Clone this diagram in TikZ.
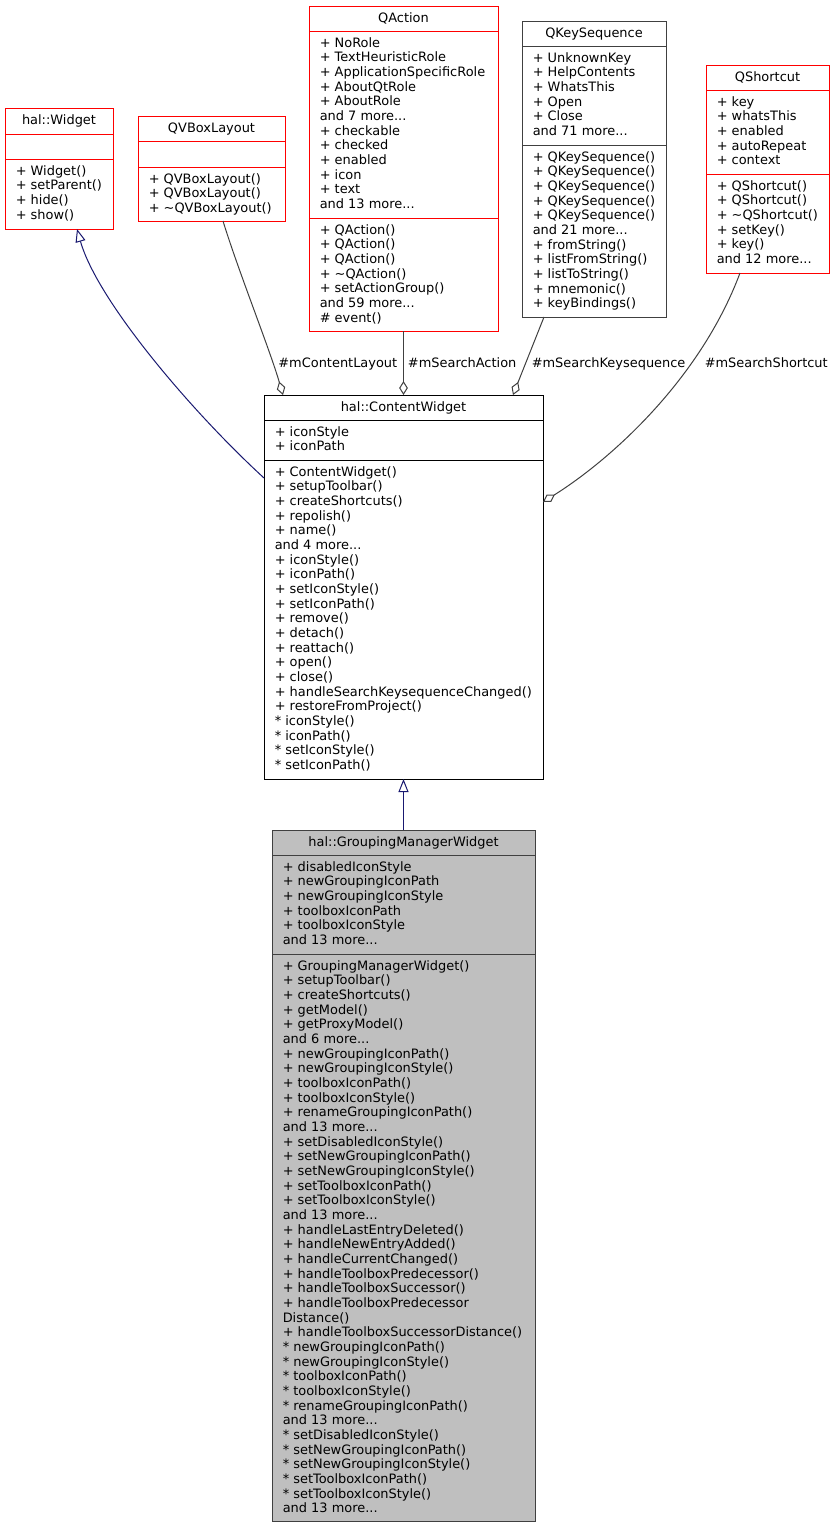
\documentclass[tikz,border=0pt]{standalone}
\usepackage{fontspec}
\setmainfont{DejaVu Sans}
\usetikzlibrary{arrows.meta,calc,fit}
\definecolor{dkgray}{HTML}{404040}
\definecolor{edgegray}{HTML}{404040}
\definecolor{navyedge}{HTML}{191970}
\definecolor{grpfill}{HTML}{BFBFBF}
\newcommand\umlfont{\fontsize{9.7}{11}\selectfont}
\tikzset{
  boxbase/.style={inner sep=0pt, outer sep=0pt, line width=0.75pt},
  redbox/.style={boxbase, draw=red, fill=white},
  darkbox/.style={boxbase, draw=dkgray, fill=white},
  blackbox/.style={boxbase, draw=black, fill=white},
  grpbox/.style={boxbase, draw=dkgray, fill=grpfill},
  redsep/.style={draw=red, line width=0.75pt},
  darksep/.style={draw=dkgray, line width=0.75pt},
  blacksep/.style={draw=black, line width=0.75pt},
  ttl/.style={anchor=base, inner sep=0pt, font=\umlfont},
  mem/.style={anchor=base west, inner sep=0pt, font=\umlfont},
  lbl/.style={inner sep=0pt, font=\umlfont},
  inh/.style={draw=navyedge, line width=0.75pt, -{Triangle[open,length=9.75pt,width=7.5pt]}},
  agg/.style={draw=edgegray, line width=0.75pt, {Diamond[open,length=10.5pt,width=6.5pt]}-}
}
\begin{document}
\begin{tikzpicture}[x=0.75pt,y=-0.75pt]
\useasboundingbox (0,0) rectangle (834,1528);

% hal::Widget
\node[redbox, fit={(5,108) (113,229)}] (wdg) {};
\draw[redsep] (5,134) -- (113,134);
\draw[redsep] (5,159) -- (113,159);
\node[ttl] (wdgT) at (59,124) {hal::Widget};
\node[mem] (wdgM) at (15.5,175) {\begin{tabular}[t]{@{}l@{}}+ Widget()\\+ setParent()\\+ hide()\\+ show()\end{tabular}};

% QVBoxLayout
\node[redbox, fit={(138,116) (285,221)}] (qvb) {};
\draw[redsep] (138,141) -- (285,141);
\draw[redsep] (138,167) -- (285,167);
\node[ttl] (qvbT) at (211.5,132) {QVBoxLayout};
\node[mem] (qvbM) at (148.5,183) {\begin{tabular}[t]{@{}l@{}}+ QVBoxLayout()\\+ QVBoxLayout()\\+ \textasciitilde QVBoxLayout()\end{tabular}};

% QAction
\node[redbox, fit={(309,6) (498,331)}] (qa) {};
\draw[redsep] (309,31) -- (498,31);
\draw[redsep] (309,218) -- (498,218);
\node[ttl] (qaT) at (403.5,22) {QAction};
\node[mem] (qaA) at (319.5,47) {\begin{tabular}[t]{@{}l@{}}+ NoRole\\+ TextHeuristicRole\\+ ApplicationSpecificRole\\+ AboutQtRole\\+ AboutRole\\and 7 more...\\+ checkable\\+ checked\\+ enabled\\+ icon\\+ text\\and 13 more...\end{tabular}};
\node[mem] (qaM) at (319.5,234) {\begin{tabular}[t]{@{}l@{}}+ QAction()\\+ QAction()\\+ QAction()\\+ \textasciitilde QAction()\\+ setActionGroup()\\and 59 more...\\\# event()\end{tabular}};

% QKeySequence
\node[darkbox, fit={(522,21) (666,317)}] (qks) {};
\draw[darksep] (522,46) -- (666,46);
\draw[darksep] (522,145) -- (666,145);
\node[ttl] (qksT) at (594,37) {QKeySequence};
\node[mem] (qksA) at (532.5,62) {\begin{tabular}[t]{@{}l@{}}+ UnknownKey\\+ HelpContents\\+ WhatsThis\\+ Open\\+ Close\\and 71 more...\end{tabular}};
\node[mem] (qksM) at (532.5,161) {\begin{tabular}[t]{@{}l@{}}+ QKeySequence()\\+ QKeySequence()\\+ QKeySequence()\\+ QKeySequence()\\+ QKeySequence()\\and 21 more...\\+ fromString()\\+ listFromString()\\+ listToString()\\+ mnemonic()\\+ keyBindings()\end{tabular}};

% QShortcut
\node[redbox, fit={(706,65) (829,273)}] (qsc) {};
\draw[redsep] (706,90) -- (829,90);
\draw[redsep] (706,174) -- (829,174);
\node[ttl] (qscT) at (767.5,81) {QShortcut};
\node[mem] (qscA) at (716.5,106) {\begin{tabular}[t]{@{}l@{}}+ key\\+ whatsThis\\+ enabled\\+ autoRepeat\\+ context\end{tabular}};
\node[mem] (qscM) at (716.5,190) {\begin{tabular}[t]{@{}l@{}}+ QShortcut()\\+ QShortcut()\\+ \textasciitilde QShortcut()\\+ setKey()\\+ key()\\and 12 more...\end{tabular}};

% hal::ContentWidget
\node[blackbox, fit={(264,395) (543,779)}] (cw) {};
\draw[blacksep] (264,420.5) -- (543,420.5);
\draw[blacksep] (264,460) -- (543,460);
\node[ttl] (cwT) at (403.5,411) {hal::ContentWidget};
\node[mem] (cwA) at (274.5,436) {\begin{tabular}[t]{@{}l@{}}+ iconStyle\\+ iconPath\end{tabular}};
\node[mem] (cwM) at (274.5,476) {\begin{tabular}[t]{@{}l@{}}+ ContentWidget()\\+ setupToolbar()\\+ createShortcuts()\\+ repolish()\\+ name()\\and 4 more...\\+ iconStyle()\\+ iconPath()\\+ setIconStyle()\\+ setIconPath()\\+ remove()\\+ detach()\\+ reattach()\\+ open()\\+ close()\\+ handleSearchKeysequenceChanged()\\+ restoreFromProject()\\{}* iconStyle()\\{}* iconPath()\\{}* setIconStyle()\\{}* setIconPath()\end{tabular}};

% hal::GroupingManagerWidget
\node[grpbox, fit={(272,830) (535,1521)}] (grp) {};
\draw[darksep] (272,855) -- (535,855);
\draw[darksep] (272,954) -- (535,954);
\node[ttl] (grpT) at (403.5,846) {hal::GroupingManagerWidget};
\node[mem] (grpA) at (282.5,871) {\begin{tabular}[t]{@{}l@{}}+ disabledIconStyle\\+ newGroupingIconPath\\+ newGroupingIconStyle\\+ toolboxIconPath\\+ toolboxIconStyle\\and 13 more...\end{tabular}};
\node[mem] (grpM) at (282.5,970) {\begin{tabular}[t]{@{}l@{}}+ GroupingManagerWidget()\\+ setupToolbar()\\+ createShortcuts()\\+ getModel()\\+ getProxyModel()\\and 6 more...\\+ newGroupingIconPath()\\+ newGroupingIconStyle()\\+ toolboxIconPath()\\+ toolboxIconStyle()\\+ renameGroupingIconPath()\\and 13 more...\\+ setDisabledIconStyle()\\+ setNewGroupingIconPath()\\+ setNewGroupingIconStyle()\\+ setToolboxIconPath()\\+ setToolboxIconStyle()\\and 13 more...\\+ handleLastEntryDeleted()\\+ handleNewEntryAdded()\\+ handleCurrentChanged()\\+ handleToolboxPredecessor()\\+ handleToolboxSuccessor()\\+ handleToolboxPredecessor\\Distance()\\+ handleToolboxSuccessorDistance()\\{}* newGroupingIconPath()\\{}* newGroupingIconStyle()\\{}* toolboxIconPath()\\{}* toolboxIconStyle()\\{}* renameGroupingIconPath()\\and 13 more...\\{}* setDisabledIconStyle()\\{}* setNewGroupingIconPath()\\{}* setNewGroupingIconStyle()\\{}* setToolboxIconPath()\\{}* setToolboxIconStyle()\\and 13 more...\end{tabular}};

% inheritance edges
\draw[inh] ($(cw.north west)+(0,83)$) .. controls (190,410) and (97,300) .. ($(wdg.south west)+(72,0)$);
\draw[inh] (grp.north) -- (cw.south);

% aggregation edges
\draw[agg] ($(cw.north west)+(19,0)$) .. controls (270,350) and (238,270) .. ($(qvb.south west)+(85,0)$);
\draw[agg] (cw.north) -- (qa.south);
\draw[agg] ($(cw.north west)+(249,0)$) -- ($(qks.south west)+(22,0)$);
\draw[agg] ($(cw.north east)+(0,107)$) .. controls (610,460) and (700,380) .. ($(qsc.south west)+(34,0)$);

% edge labels
\node[lbl, anchor=base east] (lblLayout) at (397.5,367) {\#mContentLayout};
\node[lbl, anchor=base west] (lblAction) at (407.7,367) {\#mSearchAction};
\node[lbl, anchor=base west] (lblKeyseq) at (531.5,367) {\#mSearchKeysequence};
\node[lbl, anchor=base west] (lblShortcut) at (704.5,367) {\#mSearchShortcut};
\end{tikzpicture}
\end{document}
